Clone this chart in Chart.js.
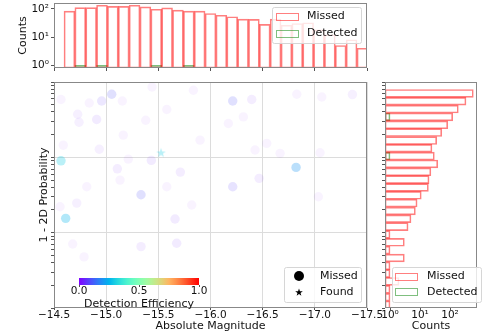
<!DOCTYPE html>
<html>
<head>
<meta charset="UTF-8">
<title>Detection Efficiency</title>
<script src="https://cdn.jsdelivr.net/npm/chart.js"></script>
<style>
  body { margin: 0; background: #fff; }
  #wrap { position: relative; width: 484px; height: 336px; }
  #wrap canvas { position: absolute; left: 0; top: 0; }
</style>
</head>
<body>
<div id="wrap">
  <canvas id="topHist" width="484" height="336"></canvas>
  <canvas id="scatter" width="484" height="336"></canvas>
  <canvas id="sideHist" width="484" height="336"></canvas>
  <canvas id="cbar" width="484" height="336"></canvas>
</div>
<script>
// top histogram (absolute magnitude bins)
const magBins = [-14.648, -14.752, -14.856, -14.960, -15.064, -15.168, -15.272, -15.376, -15.480, -15.584,
                 -15.688, -15.792, -15.896, -16.000, -16.104, -16.208, -16.312, -16.416, -16.520, -16.624,
                 -16.728, -16.832, -16.936, -17.040, -17.144, -17.248, -17.352, -17.456];
const missedMagCounts = [82, 110, 110, 133, 122, 122, 133, 116, 96, 107, 89, 82, 82, 68, 59, 52, 43, 42,
                         28, 43, 26, 30, 32, 18, 12, 5, 8, 4];
const detectedMagCounts = [null, 1, null, 1, null, null, null, null, 1, null, null, 1, null, null,
                           null, null, null, null, null, null, null, null, null, null, null, null, null, null];

// side histogram (1 - 2D probability bins)
const probBins = [0.705, 0.555, 0.437, 0.344, 0.270, 0.213, 0.167, 0.132, 0.104, 0.0817, 0.0643, 0.0506,
                  0.0398, 0.0313, 0.0247, 0.0194, 0.0153, 0.0120, 0.00946, 0.00745, 0.00586, 0.00461,
                  0.00363, 0.00286, 0.00225, 0.00177, 0.00139, 0.00110];
const missedProbCounts = [598, 341, 189, 123, 84, 53, 36, 25, 30, 39, 23, 20, 19, 11, 8, 7, 5, 4,
                          1, 3, 1, 3, 1, 1, 2, 1, 1, 1];
const detectedProbCounts = [null, null, null, 1, null, null, null, null, 1, null, null, null, null, null,
                            null, null, null, null, null, null, null, null, null, null, null, null, null, null];

// injections
const missedMag = [-15.053, -14.957, -16.213, -14.567, -15.334, -16.213, -16.820, -14.612, -15.433, -15.107,
                   -14.909, -14.727, -14.740, -14.934, -15.711, -14.718, -16.395, -17.360, -16.466, -15.660,
                   -15.676, -15.334, -14.679, -14.788, -14.558, -15.836, -16.827, -17.067, -16.171, -16.315,
                   -15.900, -16.539, -16.427, -16.667, -17.050, -15.820, -17.034, -15.581, -14.567, -14.838,
                   -15.155, -15.440, -15.379, -15.164, -14.589, -15.212, -14.814, -15.133, -15.581];
const missedProb = [0.687, 0.560, 0.560, 0.0899, 0.0319, 0.0407, 0.0735, 0.0155, 0.0910, 0.0704,
                    0.318, 0.373, 0.292, 0.128, 0.0637, 0.0247, 0.585, 0.681, 0.0526, 0.0152,
                    0.00724, 0.00653, 0.00708, 0.00477, 0.0221, 0.776, 0.687, 0.633, 0.281, 0.344,
                    0.169, 0.153, 0.125, 0.113, 0.115, 0.0233, 0.0300, 0.0407, 0.585, 0.527,
                    0.560, 0.859, 0.311, 0.197, 0.145, 0.0946, 0.0407, 0.0499, 0.431];
const missedEff = [0.10, 0.06, 0.10, 0.30, 0.10, 0.08, 0.20, 0.25, 0.04, 0.03,
                   0.04, 0.02, 0.02, 0.02, 0.03, 0.02, 0.03, 0.02, 0.03, 0.04,
                   0.04, 0.03, 0.01, 0.01, 0.01, 0.01, 0.01, 0.01, 0.01, 0.01,
                   0.01, 0.01, 0.01, 0.01, 0.01, 0.01, 0.01, 0.01, 0.01, 0.01,
                   0.01, 0.01, 0.01, 0.01, 0.01, 0.01, 0.01, 0.01, 0.01];
const foundMag = [-15.526];
const foundProb = [0.116];
const foundEff = [0.30];

// ticks
const magTicks = [-14.5, -15.0, -15.5, -16.0, -16.5, -17.0, -17.5];
const magTickLabels = ['\u221214.5', '\u221215.0', '\u221215.5', '\u221216.0', '\u221216.5', '\u221217.0', '\u221217.5'];
const countTicks = [1, 10, 100];
const countTickLabels = ['10\u2070', '10\u00b9', '10\u00b2'];
const effTicks = [0, 0.5, 1];
const effTickLabels = ['0.0', '0.5', '1.0'];

Chart.defaults.font.family = '"DejaVu Sans", sans-serif';
Chart.defaults.font.size = 11;
Chart.defaults.color = '#111';

const RED = 'rgba(255, 0, 0, 0.5)';
const GREEN = 'rgba(0, 128, 0, 0.5)';
const GRID = '#dcdcdc';
const TICK = '#555';

// matplotlib "rainbow"
function rainbow(t, a) {
  const r = Math.min(1, Math.abs(2 * t - 0.5));
  const g = Math.sin(Math.PI * t);
  const b = Math.cos(Math.PI * t / 2);
  return 'rgba(' + Math.round(r * 255) + ',' + Math.round(g * 255) + ',' + Math.round(b * 255) + ',' + a + ')';
}
function effColor(e) {
  return rainbow(e, Math.min(0.3, 0.035 + 1.4 * e));
}

function starPath(g, cx, cy, r) {
  g.beginPath();
  for (let k = 0; k < 10; k++) {
    const rad = k % 2 ? r * 0.4 : r;
    const a = -Math.PI / 2 + k * Math.PI / 5;
    g.lineTo(cx + rad * Math.cos(a), cy + rad * Math.sin(a));
  }
  g.closePath();
}
function starImage(color, r) {
  const c = document.createElement('canvas');
  const s = Math.ceil(r * 2) + 2;
  c.width = c.height = s;
  const g = c.getContext('2d');
  starPath(g, s / 2, s / 2 + 0.5, r);
  g.fillStyle = color;
  g.fill();
  return c;
}

function isDecade(v) { const l = Math.log10(v); return Math.abs(l - Math.round(l)) < 1e-6; }
function isLogStep(v) {
  const m = v / Math.pow(10, Math.floor(Math.log10(v) + 1e-9));
  return Math.abs(m - Math.round(m)) < 1e-6;
}

function fixWidth(w) { return s => { s.width = w; s.paddingTop = 0; s.paddingBottom = 0; }; }
function fixHeight(h) { return s => { s.height = h; s.paddingLeft = 0; s.paddingRight = 0; }; }
function setTicks(vals) { return s => { s.ticks = vals.map(v => ({ value: v })); }; }

const frame = {
  id: 'frame',
  afterDatasetsDraw(chart) {
    const { ctx, chartArea: a } = chart;
    ctx.save();
    ctx.strokeStyle = '#888';
    ctx.lineWidth = 1;
    ctx.strokeRect(Math.round(a.left) + 0.5, Math.round(a.top) + 0.5,
                   Math.round(a.right - a.left) - 1, Math.round(a.bottom - a.top) - 1);
    ctx.restore();
  }
};

const boxLegend = {
  id: 'boxLegend',
  afterDraw(chart, args, o) {
    if (!o.markers) return;
    const c = chart.ctx;
    c.save();
    c.fillStyle = 'rgba(255,255,255,0.8)';
    c.strokeStyle = '#d6d6d6';
    c.lineWidth = 1;
    c.beginPath();
    c.roundRect(o.x + 0.5, o.y + 0.5, o.w, o.h, 2);
    c.fill();
    c.stroke();
    c.font = '11px "DejaVu Sans"';
    c.textBaseline = 'middle';
    chart.data.datasets.forEach((ds, i) => {
      const cy = o.y + o.first + i * o.step;
      const kind = o.markers[i];
      if (kind === 'rect') {
        c.strokeStyle = ds.borderColor;
        c.strokeRect(o.mx + 0.5, Math.round(cy - 3.5) + 0.5, 22, 7);
      } else if (kind === 'circle') {
        c.fillStyle = '#000';
        c.beginPath();
        c.arc(o.mx, cy, 5, 0, Math.PI * 2);
        c.fill();
      } else {
        c.fillStyle = '#000';
        starPath(c, o.mx, cy + 0.5, 4);
        c.fill();
      }
      c.fillStyle = '#111';
      c.fillText(ds.label, o.tx, cy);
    });
    c.restore();
  }
};

const colorbarFill = {
  id: 'colorbarFill',
  beforeDatasetsDraw(chart) {
    const { ctx, chartArea: a } = chart;
    const grad = ctx.createLinearGradient(a.left, 0, a.right, 0);
    for (let k = 0; k <= 20; k++) grad.addColorStop(k / 20, rainbow(k / 20, 1));
    ctx.fillStyle = grad;
    ctx.fillRect(a.left, a.top, a.right - a.left, a.bottom - a.top);
  }
};

const base = { responsive: false, animation: false, events: [] };
const noLegend = { legend: { display: false }, tooltip: { enabled: false } };

const magAxis = {
  type: 'linear', reverse: true, min: -17.5, max: -14.5, offset: false,
  afterBuildTicks: setTicks(magTicks),
  border: { display: false }
};
const probAxis = {
  type: 'logarithmic', min: 0.001, max: 1,
  ticks: { display: false },
  border: { display: false },
  grid: {
    tickLength: 3,
    tickColor: ctx => isLogStep(ctx.tick.value) ? TICK : 'rgba(0,0,0,0)'
  }
};

// top histogram
new Chart(document.getElementById('topHist'), {
  type: 'bar',
  data: {
    datasets: [
      { label: 'Missed', data: magBins.map((m, i) => ({ x: m, y: missedMagCounts[i] })),
        borderColor: RED, backgroundColor: 'rgba(0,0,0,0)', borderWidth: 1, borderSkipped: false,
        barPercentage: 1, categoryPercentage: 1, grouped: false },
      { label: 'Detected', data: magBins.map((m, i) => ({ x: m, y: detectedMagCounts[i] })),
        borderColor: GREEN, backgroundColor: 'rgba(0,0,0,0)', borderWidth: 1, borderSkipped: false,
        barPercentage: 1, categoryPercentage: 1, grouped: false }
    ]
  },
  options: Object.assign({}, base, {
    layout: { padding: { left: 13, right: 117, top: 3, bottom: 264 } },
    scales: {
      x: Object.assign({}, magAxis, {
        ticks: { display: false },
        grid: { offset: false, drawOnChartArea: false, tickLength: 3, tickColor: TICK },
        afterFit: fixHeight(4)
      }),
      y: {
        type: 'logarithmic', min: 0.8, max: 160,
        afterBuildTicks: setTicks(countTicks),
        ticks: { font: { size: 10.5 }, padding: 2, callback: v => countTickLabels[countTicks.indexOf(v)] || '' },
        grid: { drawOnChartArea: false, tickLength: 3, tickColor: TICK },
        border: { display: false },
        title: { display: true, text: 'Counts', font: { size: 11 } },
        afterFit: fixWidth(41)
      }
    },
    plugins: Object.assign({}, noLegend, {
      boxLegend: { markers: ['rect', 'rect'], x: 272, y: 7, w: 89, h: 36, first: 9, step: 17, mx: 276, tx: 307 }
    })
  }),
  plugins: [frame, boxLegend]
});

// main scatter
new Chart(document.getElementById('scatter'), {
  type: 'scatter',
  data: {
    datasets: [
      { label: 'Missed', data: missedMag.map((m, i) => ({ x: m, y: missedProb[i] })),
        pointStyle: 'circle', pointRadius: 4.7, pointBorderWidth: 0,
        pointBackgroundColor: missedEff.map(effColor), pointBorderColor: 'rgba(0,0,0,0)' },
      { label: 'Found', data: foundMag.map((m, i) => ({ x: m, y: foundProb[i] })),
        pointStyle: starImage(effColor(foundEff[0]), 5), pointRadius: 5 }
    ]
  },
  options: Object.assign({}, base, {
    layout: { padding: { left: 34, right: 117, top: 82, bottom: 0 } },
    scales: {
      x: Object.assign({}, magAxis, {
        ticks: { font: { size: 10.5 }, padding: -1, autoSkip: false, maxRotation: 0,
                 callback: v => magTickLabels[magTicks.indexOf(v)] },
        grid: { color: GRID, tickLength: 2, tickColor: TICK },
        title: { display: true, text: 'Absolute Magnitude', font: { size: 11 }, padding: { top: 0, bottom: 3 } },
        afterFit: fixHeight(28)
      }),
      y: Object.assign({}, probAxis, {
        grid: Object.assign({}, probAxis.grid, {
          color: ctx => (isDecade(ctx.tick.value) && ctx.tick.value > 0.0011 && ctx.tick.value < 0.9) ? GRID : 'rgba(0,0,0,0)'
        }),
        title: { display: true, text: '1 - 2D Probability', font: { size: 11 } },
        afterFit: fixWidth(20)
      })
    },
    plugins: Object.assign({}, noLegend, {
      boxLegend: { markers: ['circle', 'star'], x: 284, y: 267, w: 77, h: 35, first: 9, step: 16, mx: 299, tx: 320 }
    })
  }),
  plugins: [frame, boxLegend]
});

// side histogram
new Chart(document.getElementById('sideHist'), {
  type: 'bar',
  data: {
    datasets: [
      { label: 'Missed', data: probBins.map((p, i) => ({ y: p, x: missedProbCounts[i] })),
        borderColor: RED, backgroundColor: 'rgba(0,0,0,0)', borderWidth: 1, borderSkipped: false,
        barThickness: 7.85, grouped: false },
      { label: 'Detected', data: probBins.map((p, i) => ({ y: p, x: detectedProbCounts[i] })),
        borderColor: GREEN, backgroundColor: 'rgba(0,0,0,0)', borderWidth: 1, borderSkipped: false,
        barThickness: 7.85, grouped: false }
    ]
  },
  options: Object.assign({}, base, {
    indexAxis: 'y',
    layout: { padding: { left: 381, right: 7, top: 82, bottom: 0 } },
    scales: {
      x: {
        type: 'logarithmic', min: 0.68, max: 794,
        afterBuildTicks: setTicks(countTicks),
        ticks: { font: { size: 10.5 }, padding: -1, autoSkip: false, maxRotation: 0,
                 callback: v => countTickLabels[countTicks.indexOf(v)] || '' },
        grid: { drawOnChartArea: false, tickLength: 2, tickColor: TICK },
        border: { display: false },
        title: { display: true, text: 'Counts', font: { size: 11 }, padding: { top: 0, bottom: 3 } },
        afterFit: fixHeight(28)
      },
      y: Object.assign({}, probAxis, {
        offset: false,
        grid: Object.assign({}, probAxis.grid, { drawOnChartArea: false, offset: false }),
        afterFit: fixWidth(4)
      })
    },
    plugins: Object.assign({}, noLegend, {
      boxLegend: { markers: ['rect', 'rect'], x: 392, y: 267, w: 89, h: 35, first: 9.3, step: 15.4, mx: 395, tx: 427 }
    })
  }),
  plugins: [frame, boxLegend]
});

// colorbar
new Chart(document.getElementById('cbar'), {
  type: 'scatter',
  data: { datasets: [] },
  options: Object.assign({}, base, {
    layout: { padding: { left: 79, right: 285, top: 278, bottom: 25 } },
    scales: {
      x: {
        type: 'linear', min: 0, max: 1,
        afterBuildTicks: setTicks(effTicks),
        ticks: { font: { size: 10.5 }, padding: -2, autoSkip: false, maxRotation: 0,
                 callback: v => effTickLabels[effTicks.indexOf(v)] },
        grid: { drawOnChartArea: false, tickLength: 2, tickColor: TICK },
        border: { display: false },
        title: { display: true, text: 'Detection Efficiency', font: { size: 11 }, padding: { top: 0, bottom: 0 } },
        afterFit: fixHeight(26)
      },
      y: { display: false, min: 0, max: 1 }
    },
    plugins: noLegend
  }),
  plugins: [colorbarFill]
});
</script>
</body>
</html>
